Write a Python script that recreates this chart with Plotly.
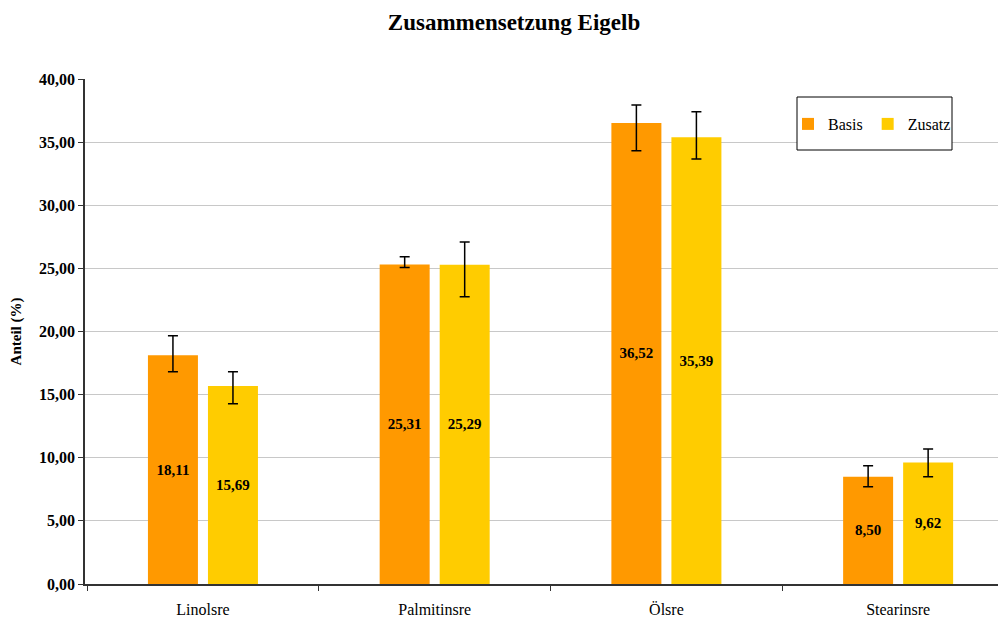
import plotly.graph_objects as go

categories = ["Linolsre", "Palmitinsre", "Ölsre", "Stearinsre"]
basis = [18.11, 25.31, 36.52, 8.50]
zusatz = [15.69, 25.29, 35.39, 9.62]
basis_err_plus = [1.56, 0.62, 1.42, 0.87]
basis_err_minus = [1.29, 0.25, 2.20, 0.79]
zusatz_err_plus = [1.13, 1.80, 2.02, 1.07]
zusatz_err_minus = [1.41, 2.53, 1.73, 1.12]
y_ticks = [0, 5, 10, 15, 20, 25, 30, 35, 40]

FONT = "Liberation Serif, Times New Roman, serif"

fig = go.Figure()
for name, vals, ep, em, col in [
    ("Basis", basis, basis_err_plus, basis_err_minus, "#FF9900"),
    ("Zusatz", zusatz, zusatz_err_plus, zusatz_err_minus, "#FFCC00"),
]:
    fig.add_trace(go.Bar(
        name=name, x=categories, y=vals,
        marker=dict(color=col, line=dict(width=0)),
        error_y=dict(type="data", symmetric=False, array=ep, arrayminus=em,
                     color="black", thickness=1.5, width=5),
        texttemplate="<b>%{y:.2f}</b>", textposition="inside",
        insidetextanchor="middle", constraintext="none",
        textfont=dict(family=FONT, size=15, color="black"),
        hoverinfo="skip",
    ))

fig.update_layout(
    width=1000, height=619,
    margin=dict(l=85, r=2, t=79, b=35, autoexpand=False),
    paper_bgcolor="white", plot_bgcolor="white",
    separators=",.",
    barmode="group", bargap=0.482, bargroupgap=0.167,
    font=dict(family=FONT, size=16, color="black"),
    title=dict(text="<b>Zusammensetzung Eigelb</b>", x=0.514, xanchor="center",
               y=1 - 22 / 619, yanchor="middle", font=dict(family=FONT, size=23)),
    showlegend=True,
    legend=dict(orientation="h", x=(788 - 85) / 913, y=(584 - 124) / 505,
                xanchor="left", yanchor="middle", bgcolor="rgba(0,0,0,0)",
                borderwidth=0, font=dict(family=FONT, size=16)),
    uniformtext=dict(minsize=15, mode="show"),
)

fig.add_shape(type="rect", xref="paper", yref="paper",
              x0=(797 - 85) / 913, x1=(952 - 85) / 913,
              y0=(584 - 150) / 505, y1=(584 - 97) / 505,
              line=dict(color="black", width=1), fillcolor="white", layer="above")

fig.update_yaxes(
    range=[0, 40], tickvals=y_ticks, tickformat=".2f", automargin=False,
    showgrid=True, gridcolor="#C8C8C8", gridwidth=1,
    showline=True, linecolor="#333333", linewidth=1.5,
    ticks="outside", ticklen=5, tickcolor="#333333",
    tickfont=dict(family=FONT, size=16, color="black", weight="bold"),
    title=dict(text="<b>Anteil (%)</b>", font=dict(family=FONT, size=15), standoff=14),
    zeroline=False,
)
fig.update_xaxes(
    range=[-0.509, 3.431], automargin=False,
    showline=True, linecolor="#333333", linewidth=1.5,
    ticks="outside", ticklen=5, tickcolor="#333333", tickson="boundaries",
    ticklabelstandoff=10,
    tickfont=dict(family=FONT, size=16, color="black"),
    showgrid=False,
)

fig.write_html("out.html", config={"displayModeBar": False},
               post_script="document.body.style.margin='0';document.body.style.overflow='hidden';")
